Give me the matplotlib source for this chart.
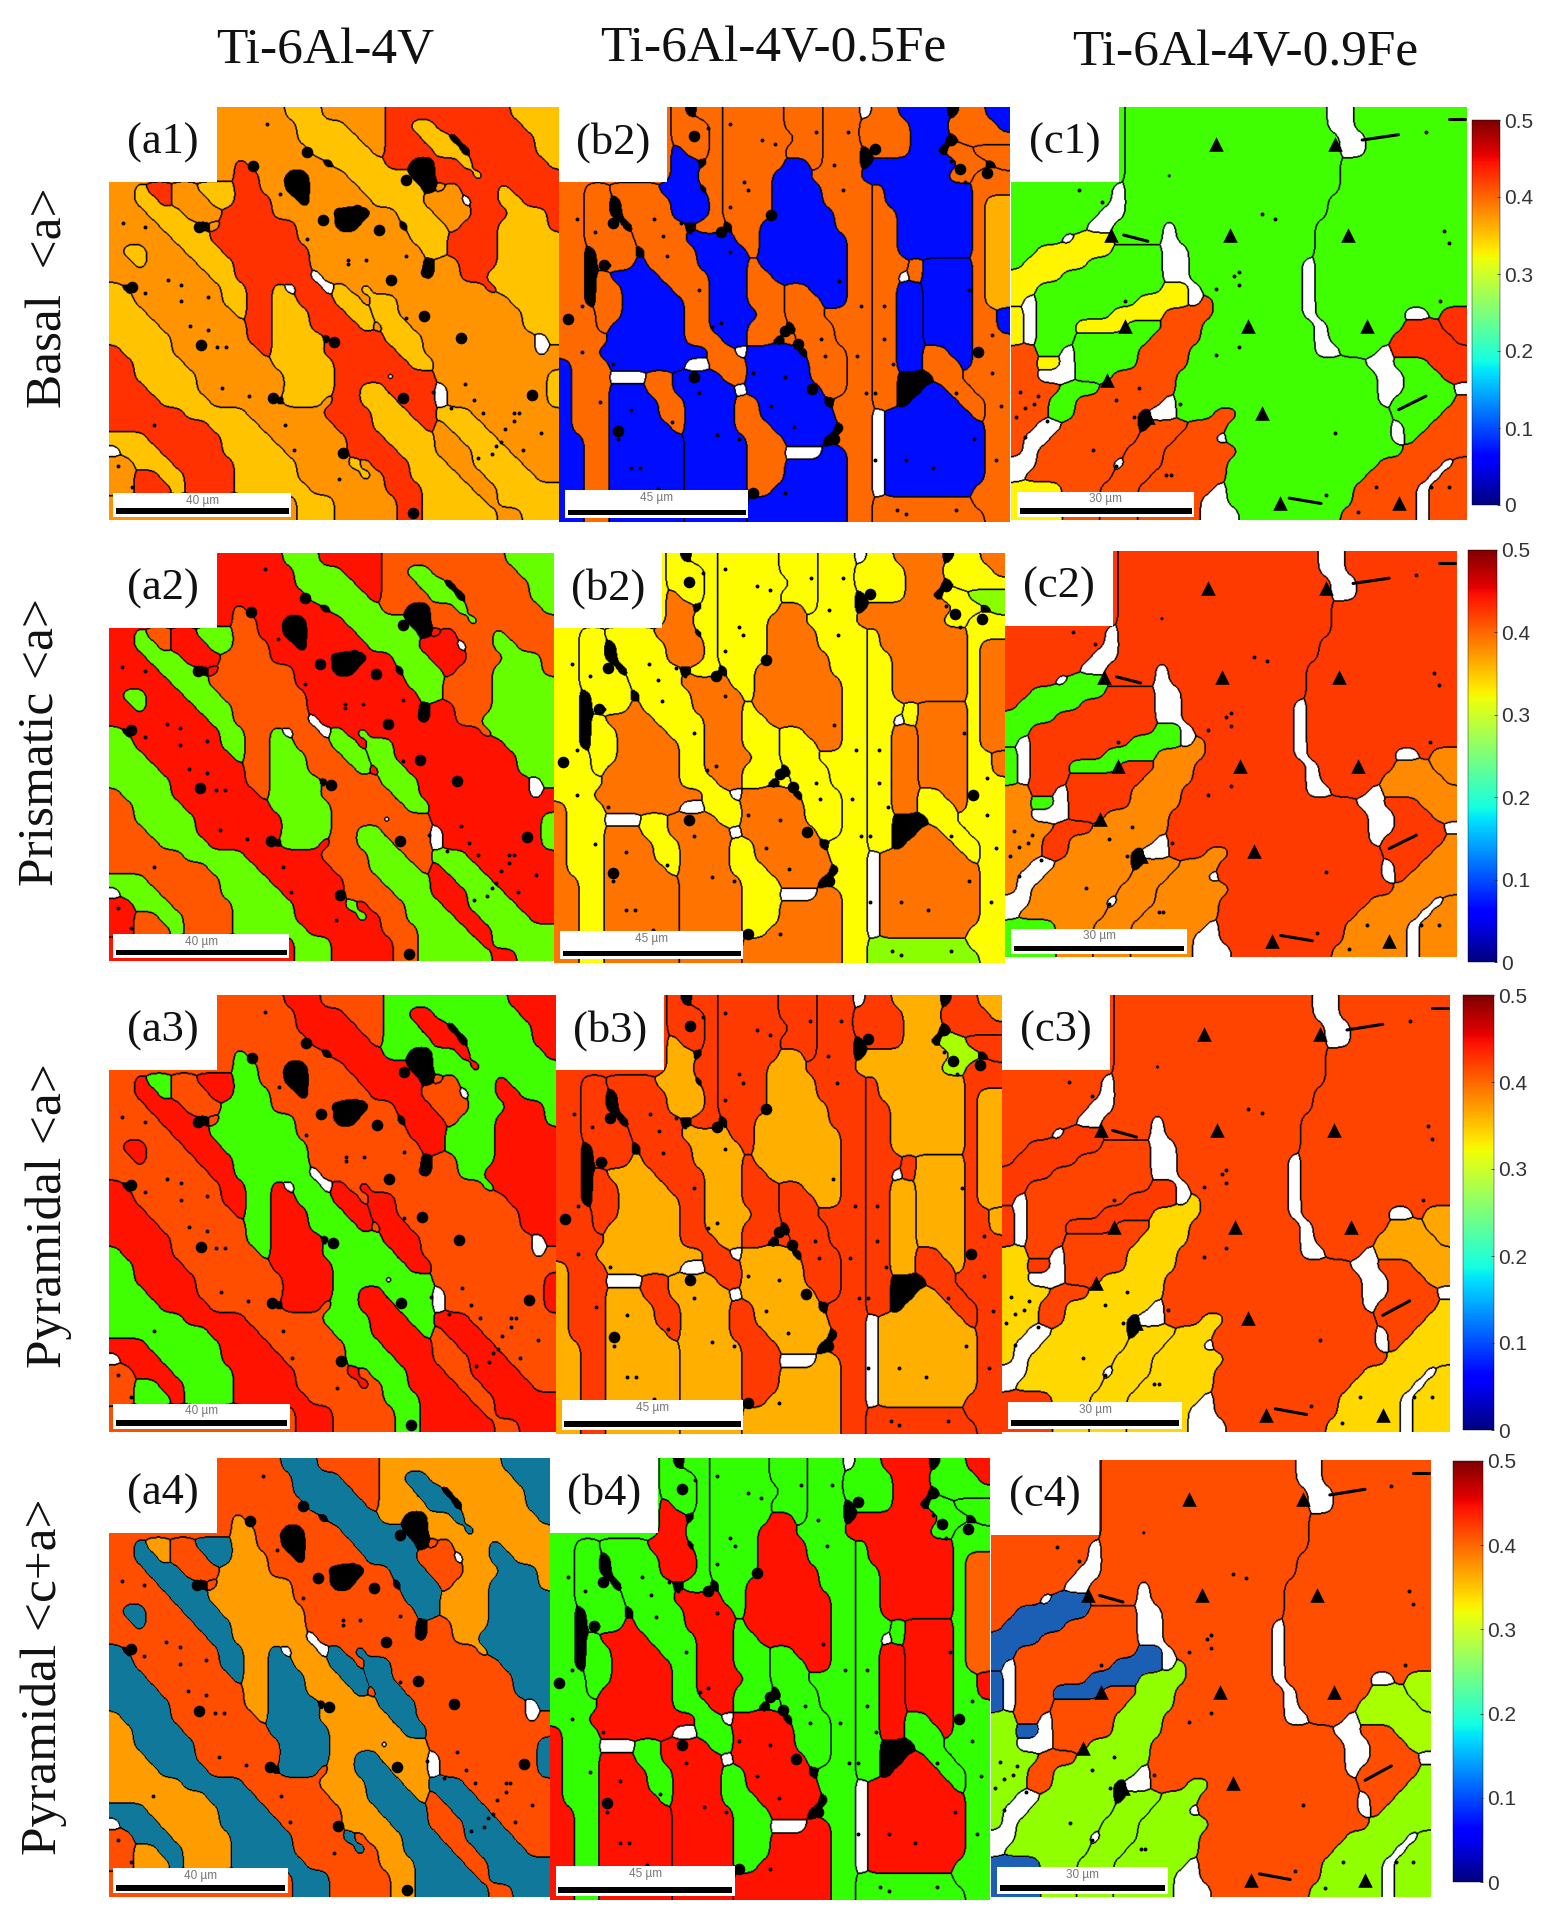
import re
import numpy as np
import matplotlib
matplotlib.use("Agg")
import matplotlib.pyplot as plt
from matplotlib.colors import LinearSegmentedColormap, ListedColormap, Normalize
from matplotlib.patches import Rectangle
from matplotlib.cm import ScalarMappable

# ---------- data ----------
COLUMN_TITLES = ["Ti-6Al-4V", "Ti-6Al-4V-0.5Fe", "Ti-6Al-4V-0.9Fe"]
ROW_TITLES = ["Basal  <a>", "Prismatic <a>", "Pyramidal <a>", "Pyramidal <c+a>"]
PANEL_LABELS = [["(a1)", "(b2)", "(c1)"], ["(a2)", "(b2)", "(c2)"],
                ["(a3)", "(b3)", "(c3)"], ["(a4)", "(b4)", "(c4)"]]
SCALE_TEXT = ["40 µm", "45 µm", "30 µm"]
CBAR_TICKS = [0, 0.1, 0.2, 0.3, 0.4, 0.5]
CBAR_LABELS = ["0", "0.1", "0.2", "0.3", "0.4", "0.5"]

# grain label maps, 36 cells wide and 33 high, run-length coded by row
# '#' = unindexed (black), '.' = no data (white)
GRAINS_A = """O14 B3 P5 D10 E4
O15 B4 P3 D2 F2 D7 E3
O15 B5 P2 D3 F2 # D6 E2
O16 B5 P D4 F2 # D5 E2
O10 R O6 # B4 D2 #2 D2 F D6 E
O10 R2 O2 #2 O3 B5 #2 D3 F D7
O2 Y M2 H2 X3 R2 O2 #2 O4 B5 # O I D3 E D4
O2 Y2 M H3 X2 R3 O2 # O5 B4 I3 . D2 E2 D3
O3 Y3 H3 R4 O3 # O #3 O2 B3 I3 D3 E3 D2
O4 Y3 # O R6 O3 #2 O3 # B3 I D3 E4 D
O5 Y3 R7 O9 B3 D4 E5
O g2 O3 Y3 R7 O9 B2 D4 E5
O2 g O4 Y3 R6 O9 # O2 D3 E5
O8 Y2 R6 . O8 # O2 D2 E5
V # O7 Y2 R2 Z . R2 . K O J O3 O6 D E5
V2 O7 Y2 R2 Z2 R3 K2 O J2 O9 E4
V3 O7 Y R2 Z3 R3 K2 J2 O10 E3
V4 O7 R2 Z3 R4 K O J2 O9 E3
V5 O6 R2 Z4 # R4 J3 O9 . E
L V4 O7 R Z4 R6 J2 O9 . O
L2 V4 O7 Z5 R6 J2 O10
L2 V5 O7 Z4 R4 . R3 O9 g
L3 V4 O7 Z4 R2 U2 R4 . O8 g
L4 V4 O5 # Z3 O R2 U3 R3 . O8 g
L6 V5 O6 R4 U3 R2 T3 O7
L8 V4 O6 R3 U4 R S T3 O6
N3 L6 V4 O6 R3 U4 S2 T3 O5
. N3 L5 V5 O5 R4 U3 S3 T3 O4
Q2 N3 L5 V5 O4 q O R3 U3 S2 T4 O3
Q2 M2 N2 L4 V5 O5 q O R2 U4 S2 T4 O2
Q2 M3 N L4 V6 O6 R3 U4 S2 T5
O15 V3 O5 R2 U5 S T5
O15 V3 O5 R2 U6 S2 T3""".splitlines()

GRAINS_B = """a9 f # g2 h5 i3 j3 . n2 C4 # q2 M2
a9 f3 g h5 i3 j3 n4 C3 q4 M
a9 f3 g h6 i2 j3 n4 C3 # q3
a9 A f2 g h5 i3 j3 # n3 C2 # p2 x2
a9 A2 # g h5 D2 i j3 # C7 p2 # x
a9 A2 g2 h4 D3 j4 C7 p2 r2
a2 c2 e4 A3 # g h4 D4 j4 m C7 r3
a2 c2 # e4 A3 g h4 D4 j4 m C7 r Y2
a2 c2 # e4 A3 g h4 D5 j3 m2 C6 r Y2
a2 c3 # e4 # g2 # h2 D6 j3 m2 C6 r Y2
a2 c4 e4 E4 h2 D7 j2 m2 C6 r Y2
a2 # c3 # e4 E4 h D7 j2 m2 C6 r Y2
a2 # c3 F e4 E4 l D7 j2 m3 w G4 r Y2
a2 # d F4 e4 E3 l2 D6 j2 m2 . w G4 r Y2
a2 # d2 F4 e3 E3 l3 k2 D3 j2 m2 H2 G4 r Y2
a2 # d2 F5 e2 E3 l3 k3 D2 j2 m2 H2 G4 r Y2
a3 d2 F5 e2 E4 l2 k3 j4 m2 H2 G4 r2 N
a3 d F6 e2 E3 l3 # k3 j3 m2 H2 G4 r2 N
a4 F6 e3 E2 l2 # l k3 j3 m2 H2 G4 r3
a3 F9 e2 . I4 # k3 j2 m2 H2 s2 G2 r3
J a3 F6 .2 e3 I5 k3 j2 m2 H2 s3 G r3
J a3 .3 u2 K4 e2 I5 k3 j2 m2 #3 s2 r4
J a3 L3 u2 K5 . I6 k2 j2 m2 #2 O2 s2 r3
J a3 L4 u2 K4 t2 I5 # j3 m2 # O4 s2 r2
J a3 L4 u2 K4 t2 I6 j3 . O7 s r2
J a3 L5 u K4 t3 I5 # j2 . O8 r2
J2 a2 L6 K5 t3 I3 # j3 . O8 r2
J2 a2 L6 K5 t3 .3 P2 j2 . O8 r2
J2 a2 L6 K5 t3 P5 j2 . O8 r2
J2 a2 L6 K5 t3 P5 j2 . O8 r2
J2 a2 L6 K5 t2 P6 j2 . O7 r3
J2 a2 L6 K5 P8 j2 v8 r3
J2 a2 L6 K5 P8 j2 v9 r2""".splitlines()

GRAINS_C = """A9 B16 .2 C9
A9 B16 .2 C9
A9 B17 .2 C8
A9 B17 .2 C8
A9 B17 C10
A9 B3 . B13 C10
A8 . B17 C10
A8 . B16 C11
A7 .2 B16 C11
A6 .2 B4 . B11 C12
A4 . Y3 B4 . B11 C12
A2 Y6 E4 .2 B10 C12
A Y5 E6 .2 B9 . C12
Y4 E8 .2 B9 . C12
Y2 E10 Z2 . B8 . C12
Y . E8 Z4 . b B7 . C12
X . E6 Z4 b4 B7 . C7 .2 C l2
X . E3 Z4 F3 b3 B9 . C6 r3 l2
X . E3 F6 b4 B9 . C5 r5 l
a2 E2 . F5 b4 B10 .2 C3 . r6
a2 W2 . F5 b4 B14 .2 D3 r3
a2 .3 F3 b5 B16 .2 D3 r2
a4 H3 b6 B16 .2 D4 .
a3 H2 b7 . B16 . D5 e
a3 H2 b5 # .2 B3 d2 B12 D4 e2
a2 .2 b6 # c3 d3 B13 . D2 e3
a .2 b7 c3 d3 . B13 . D e4
a . b7 c3 d6 B13 e6
.2 b6 . c3 d5 B12 e5 . f
. b7 c3 d6 B11 e5 . f2
V4 b3 c3 d6 . B10 e5 . f3
V4 b3 c3 d5 .2 B10 e5 . f3
V4 b3 c3 d5 .3 B8 e6 . f3""".splitlines()

# which grains share an orientation, and their Schmid factor in rows 1-4
CLASSES_A = {"BYZVUTEFNKJXgq": [0.34, 0.257, 0.43, 0.16],
             "OPQHISA": [0.365, 0.43, 0.40, 0.40],
             "RDLM": [0.415, 0.395, 0.245, 0.36]}
CLASSES_B = {"ACDEFGHIJKLMNOP": [0.06, 0.38, 0.35, 0.43],
             "acdefghijklmnqrstuw": [0.385, 0.31, 0.41, 0.24],
             "Y": [0.35, 0.38, 0.35, 0.39],
             "vx": [0.385, 0.27, 0.41, 0.24],
             "p": [0.385, 0.31, 0.28, 0.24]}
CLASSES_C = {"ABCDEFH": [0.245, 0.41, 0.405, 0.40],
             "abcdef": [0.40, 0.37, 0.33, 0.272],
             "YZXWV": [0.315, 0.245, 0.41, 0.10],
             "rl": [0.415, 0.37, 0.355, 0.28]}

SPECKS_A = [(.79, .67), (.81, .71), (.83, .74), (.90, .74), (.91, .74), (.94, .69),
            (.96, .79), (.86, .82), (.87, .81), (.76, .73), (.72, .69), (.82, .85),
            (.92, .83), (.85, .84), (.88, .78), (.90, .76), (.66, .51), (.57, .37),
            (.53, .38), (.13, .42), (.16, .43), (.08, .45), (.16, .47), (.22, .46),
            (.18, .53), (.22, .54), (.24, .58), (.26, .58), (.25, .68), (.31, .70),
            (.39, .77), (.41, .83), (.51, .90), (.08, .29), (.03, .28), (.05, .92),
            (.02, .87), (.10, .77), (.35, .04), (.38, .21), (.44, .32), (.53, .37),
            (.66, .36)]
BLOBS_A = [(.40, .176), (.43, .20), (.475, .273), (.51, .257), (.55, .25), (.60, .297),
           (.32, .144), (.66, .176), (.44, .11), (.20, .29), (.05, .435), (.205, .576),
           (.705, .40), (.50, .568), (.365, .705), (.653, .705), (.52, .838), (.675, .984),
           (.783, .56), (.627, .42), (.94, .697), (.70, .507)]
SPECKS_B = [(.38, .04), (.45, .08), (.48, .09), (.33, .05), (.41, .18), (.42, .20),
            (.38, .24), (.61, .14), (.63, .20), (.64, .06), (.57, .06), (.23, .31),
            (.24, .36), (.21, .27), (.05, .59), (.05, .48), (.09, .71), (.43, .64),
            (.47, .72), (.36, .52), (.34, .53), (.31, .69), (.16, .73), (.18, .87),
            (.25, .76), (.70, .69), (.68, .69), (.67, .48), (.72, .48), (.88, .69),
            (.77, .85), (.83, .87), (.88, .97), (.77, .98), (.97, .85), (.98, .72),
            (.96, .64), (.91, .44), (.50, .93), (.58, .56), (.59, .60), (.90, .18),
            (.87, .13), (.50, .65), (.52, .77), (.16, .87), (.22, .92), (.04, .27),
            (.08, .30), (.38, .35), (.27, .28), (.72, .56), (.75, .97), (.35, .79),
            (.11, .38), (.12, .62), (.13, .80), (.29, .30), (.31, .44), (.40, .80),
            (.62, .42), (.66, .60), (.70, .85), (.74, .62), (.96, .55), (.92, .80)]
BLOBS_B = [(.12, .28), (.10, .38), (.02, .51), (.70, .10), (.95, .16), (.50, .54),
           (.61, .80), (.93, .59), (.30, .65), (.13, .78), (.56, .68), (.43, .93),
           (.30, .07), (.47, .26), (.36, .30), (.53, .57), (.87, .08), (.89, .15)]
SPECKS_C = [(.15, .20), (.20, .23), (.55, .26), (.58, .27), (.45, .44), (.50, .40),
            (.49, .41), (.50, .43), (.91, .06), (.95, .30), (.96, .33), (.94, .47),
            (.25, .47), (.50, .58), (.45, .60), (.37, .72), (.02, .69), (.03, .73),
            (.06, .70), (.03, .80), (.01, .75), (.28, .68), (.23, .71), (.18, .83),
            (.35, .89), (.34, .89), (.23, .87), (.80, .92), (.76, .98), (.96, .92),
            (.92, .92), (.69, .94), (.71, .79), (.05, .72), (.08, .76), (.27, .75)]
PORES_C = [(.45, .09), (.71, .09), (.22, .31), (.48, .31), (.74, .31), (.52, .53),
           (.78, .53), (.25, .53), (.21, .66), (.55, .74), (.30, .75), (.59, .96),
           (.85, .96)]
STREAKS_C = [[(.77, .08), (.85, .067)], [(.96, .03), (.995, .03)],
             [(.61, .947), (.68, .96)], [(.247, .31), (.30, .325)],
             [(.85, .733), (.91, .70)]]

# ---------- layout (pixels) ----------
W, H = 1542, 1916
PANELS = [[(109, 559, 107, 520), (559, 1010, 107, 522), (1011, 1467, 107, 520)],
          [(109, 554, 553, 961), (554, 1005, 553, 963), (1005, 1457, 551, 957)],
          [(109, 556, 995, 1432), (556, 1002, 995, 1434), (1002, 1450, 995, 1432)],
          [(109, 550, 1458, 1897), (550, 990, 1458, 1900), (991, 1431, 1460, 1897)]]
CBARS = [(1472, 1500, 120, 505), (1468, 1497, 550, 962),
         (1463, 1494, 995, 1430), (1453, 1483, 1461, 1882)]
TITLE_POS = [(325, 51), (773, 49), (1245, 53)]
ROW_POS = [(49, 298), (40, 742), (49, 1216), (44, 1677)]
SCALE_BOX = [(.009, .405, .935, .992), (.013, .42, .923, .99), (.014, .402, .931, .992)]
OVERRIDE = {(3, 0, 0.16): "#10789a", (3, 2, 0.10): "#1b5fb5"}

SERIF = "Liberation Serif"
SANS = "Liberation Sans"
UP, NCOL = 16, 36
SIGMA = 0.5 * UP

GRAIN_CMAP = LinearSegmentedColormap.from_list(
    "grain",
    [(0, (0, 0, .5)), (.12, (0, .05, 1)), (.36, (0, 1, 1)), (.48, (.2, 1, 0)),
     (.62, (1, 1, 0)), (.88, (1, 0, 0)), (1, (.5, 0, 0))], N=512)
GRAIN_CMAP.set_under("black")
GRAIN_CMAP.set_over("white")
NORM = Normalize(0, 0.5)


def expand(rows):
    out = []
    for row in rows:
        cells = ""
        for token in row.split():
            m = re.fullmatch(r"(.)(\d*)", token)
            cells += m.group(1) * int(m.group(2) or 1)
        cells = (cells + cells[-1] * NCOL)[:NCOL]
        out.append(list(cells))
    return np.array(out)


def smooth_labels(grid):
    """Round the cell map into grain shapes: blur each label, keep the strongest."""
    labels = sorted(set(grid.ravel()))
    pad = int(3 * SIGMA)
    ny, nx = grid.shape[0] * UP + 2 * pad, grid.shape[1] * UP + 2 * pad
    fy, fx = np.fft.fftfreq(ny)[:, None], np.fft.rfftfreq(nx)[None, :]
    gauss = np.exp(-2 * np.pi ** 2 * SIGMA ** 2 * (fx ** 2 + fy ** 2))
    best, out = None, None
    for i, lab in enumerate(labels):
        cell = grid == lab
        weight = 0.95 if lab == "#" else (1.15 if lab == "." else (1.2 if cell.sum() <= 14 else 1.0))
        m = np.repeat(np.repeat(cell, UP, 0), UP, 1).astype(float)
        m = np.pad(m, pad, mode="edge")
        s = np.fft.irfft2(np.fft.rfft2(m) * gauss, s=m.shape)[pad:-pad, pad:-pad] * weight
        if best is None:
            best, out = s.copy(), np.zeros(s.shape, int)
        else:
            take = s > best
            best[take], out[take] = s[take], i
    return out, labels


def boundary_mask(lab):
    m = np.zeros(lab.shape, bool)
    dy = lab[1:, :] != lab[:-1, :]
    dx = lab[:, 1:] != lab[:, :-1]
    m[1:, :] |= dy
    m[:-1, :] |= dy
    m[:, 1:] |= dx
    m[:, :-1] |= dx
    return m


def frac(x0, x1, y0, y1):
    return [x0 / W, 1 - y1 / H, (x1 - x0) / W, (y1 - y0) / H]


fig = plt.figure(figsize=(W / 100, H / 100), dpi=100, facecolor="white")

maps = []
for rows, classes in ((GRAINS_A, CLASSES_A), (GRAINS_B, CLASSES_B), (GRAINS_C, CLASSES_C)):
    lab, names = smooth_labels(expand(rows))
    maps.append((lab, names, boundary_mask(lab), classes))

specks = [SPECKS_A, SPECKS_B, SPECKS_C]
blobs = {0: BLOBS_A, 1: BLOBS_B}

for r in range(4):
    for c in range(3):
        lab, names, edge, classes = maps[c]
        lookup = np.zeros(len(names))
        for i, n in enumerate(names):
            if n == "#":
                lookup[i] = -1
            elif n == ".":
                lookup[i] = 9
            else:
                lookup[i] = next(v[r] for k, v in classes.items() if n in k)
        vals = lookup[lab]
        special = [(val, col) for (rr, cc, val), col in OVERRIDE.items() if rr == r and cc == c]
        vals_draw = vals.copy()
        vals_draw[edge] = -1
        x0, x1, y0, y1 = PANELS[r][c]
        ax = fig.add_axes(frac(x0, x1, y0, y1))
        ax.imshow(vals_draw, cmap=GRAIN_CMAP, norm=NORM, extent=(0, 1, 1, 0), aspect="auto",
                  interpolation="bilinear", interpolation_stage="rgba")
        for val, col in special:
            ov = np.ma.masked_where(vals_draw != val, vals_draw)
            ax.imshow(ov, cmap=ListedColormap([col]), extent=(0, 1, 1, 0), aspect="auto",
                      interpolation="nearest")
        sx, sy = zip(*specks[c])
        ax.scatter(sx, sy, s=8, c="black", linewidths=0)
        if c in blobs:
            px, py = zip(*blobs[c])
            ax.scatter(px, py, s=70, c="black", linewidths=0)
        if c == 2:
            px, py = zip(*PORES_C)
            ax.scatter(px, py, s=110, marker="^", c="black", linewidths=0)
            for seg in STREAKS_C:
                sxs, sys = zip(*seg)
                ax.plot(sxs, sys, color="black", lw=2.2, solid_capstyle="round")
        # scale bar
        bx0, bx1, by0, by1 = SCALE_BOX[c]
        ax.add_patch(Rectangle((bx0, by0), bx1 - bx0, by1 - by0, fc="white", ec="none", zorder=5))
        ax.add_patch(Rectangle((bx0 + .006, by1 - .020), bx1 - bx0 - .012, .014,
                               fc="black", ec="none", zorder=6))
        ax.text((bx0 + bx1) / 2, by0 + .018, SCALE_TEXT[c], fontsize=8.5, family=SANS,
                color="#777777", ha="center", va="center", zorder=6)
        ax.set_xlim(0, 1)
        ax.set_ylim(1, 0)
        ax.axis("off")
        # panel letter box
        fig.add_artist(Rectangle((x0 / W, 1 - (y0 + 75) / H), 108 / W, 75 / H,
                                 transform=fig.transFigure, fc="white", ec="none", zorder=2))
        fig.text((x0 + 54) / W, 1 - (y0 + 36) / H, PANEL_LABELS[r][c], fontsize=32, family=SERIF,
                 color="#111111", ha="center", va="center", zorder=3)

    cx0, cx1, cy0, cy1 = CBARS[r]
    cax = fig.add_axes(frac(cx0, cx1, cy0, cy1))
    cb = fig.colorbar(ScalarMappable(norm=NORM, cmap="jet"), cax=cax, ticks=CBAR_TICKS)
    cb.ax.set_yticklabels(CBAR_LABELS, fontsize=15, family=SANS, color="#333333")
    cb.ax.tick_params(length=2, width=0.6, direction="in", pad=3, color="#333333")
    cb.outline.set_linewidth(0.3)

for (x, y), t in zip(TITLE_POS, COLUMN_TITLES):
    fig.text(x / W, 1 - y / H, t, fontsize=37, family=SERIF, color="#111111",
             ha="center", va="center")
for (x, y), t in zip(ROW_POS, ROW_TITLES):
    fig.text(x / W, 1 - y / H, t, fontsize=37, family=SERIF, color="#111111",
             ha="center", va="center", rotation=90)

fig.savefig("out.png", dpi=100)
